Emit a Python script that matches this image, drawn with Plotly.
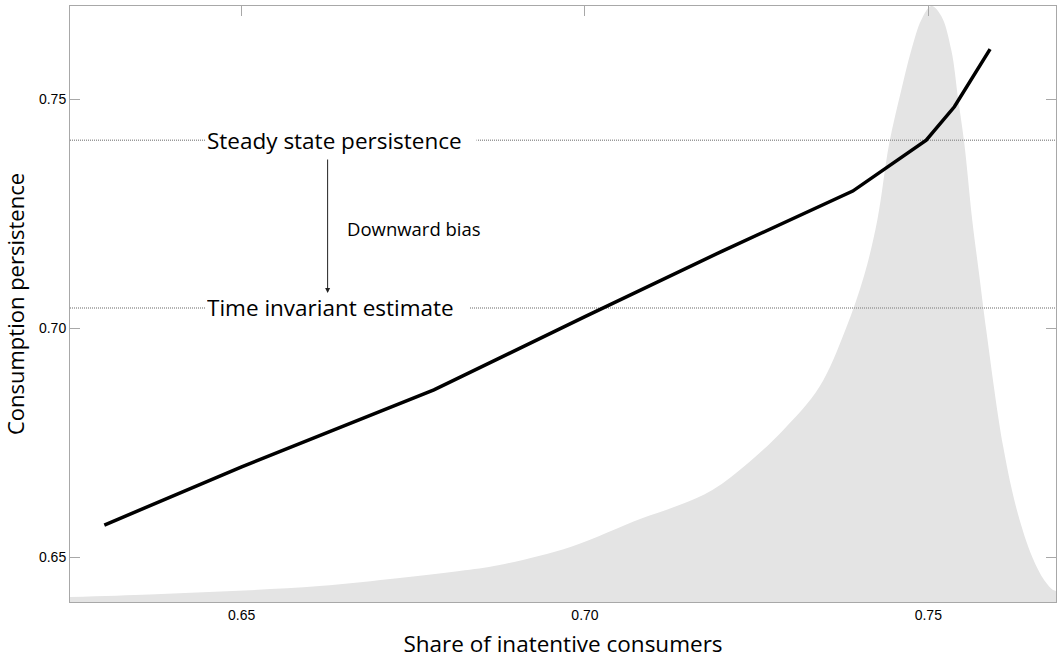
import plotly.graph_objects as go

# Consumption persistence as a function of the share of inattentive consumers
share = [0.630, 0.650, 0.678, 0.700, 0.720, 0.739, 0.7497, 0.7538, 0.759]
persistence = [0.657, 0.6697, 0.6865, 0.7025, 0.7168, 0.7299, 0.7410, 0.7483, 0.7609]

# Estimated density of the share of inattentive consumers
dens_x = [0.62496, 0.63661, 0.64869, 0.66135, 0.67300, 0.68173, 0.68755, 0.69789,
          0.70822, 0.71376, 0.71856, 0.72394, 0.72889, 0.73413, 0.73792, 0.74068,
          0.74258, 0.74432, 0.74607, 0.74753, 0.74898, 0.75044, 0.75189, 0.75335,
          0.75437, 0.75524, 0.75640, 0.75742, 0.75844, 0.76092, 0.76304, 0.76514,
          0.76689, 0.76820, 0.76863]
dens_y = [0.25, 0.38, 0.55, 0.80, 1.21, 1.56, 1.86, 2.77,
          4.20, 4.88, 5.64, 7.05, 8.66, 10.82, 13.69, 16.46,
          19.23, 23.1, 25.77, 27.78, 29.3, 30.0, 29.5, 27.78,
          25.27, 23.1, 19.23, 16.46, 13.69, 7.8, 4.45, 2.27,
          1.1, 0.6, 0.55]

steady_state = 0.7410
time_invariant = 0.7044

x_ticks = [0.65, 0.70, 0.75]
y_ticks = [0.65, 0.70, 0.75]
x_range = [0.625, 0.7686]
y_range = [0.6402, 0.7703]

axis_grey = "#a8a8a8"
label_font = "'Open Sans', Lato, sans-serif"
tick_font = dict(family="'Liberation Sans', Arial, sans-serif", size=14, color="black")

fig = go.Figure()

# density (background layer)
fig.add_trace(go.Scatter(
    x=dens_x, y=dens_y, mode="lines", fill="tozeroy",
    line=dict(color="rgba(0,0,0,0)", width=0, shape="spline", smoothing=1.0),
    fillcolor="#e4e4e4", hoverinfo="skip", showlegend=False,
    xaxis="x", yaxis="y",
))

# reference levels
for level in (steady_state, time_invariant):
    fig.add_trace(go.Scatter(
        x=x_range, y=[level, level], mode="lines",
        line=dict(color="#9a9a9a", width=1.5, dash="1px,1px"),
        hoverinfo="skip", showlegend=False, xaxis="x2", yaxis="y2",
    ))

# persistence curve
fig.add_trace(go.Scatter(
    x=share, y=persistence, mode="lines",
    line=dict(color="black", width=3.5),
    showlegend=False, xaxis="x2", yaxis="y2",
))

fig.update_layout(
    width=1057, height=659,
    margin=dict(l=70, r=1, t=6, b=57),
    plot_bgcolor="white", paper_bgcolor="white",
    xaxis=dict(
        range=x_range, tickvals=x_ticks, ticktext=[f"{v:.2f}" for v in x_ticks],
        ticks="", showline=True, linecolor=axis_grey, linewidth=1, mirror=True,
        showgrid=False, zeroline=False, tickfont=tick_font,
        title=dict(text="Share of inatentive consumers",
                   font=dict(family=label_font, size=22.5, color="black"), standoff=16),
    ),
    yaxis=dict(range=[0, 30], visible=False, showgrid=False, zeroline=False),
    xaxis2=dict(
        range=x_range, tickvals=x_ticks, overlaying="x", side="top", anchor="y2",
        ticks="inside", ticklen=10, tickcolor=axis_grey, showticklabels=False,
        showline=False, showgrid=False, zeroline=False,
    ),
    yaxis2=dict(
        range=y_range, tickvals=y_ticks, ticktext=[f"{v:.2f}" for v in y_ticks],
        overlaying="y", side="left", anchor="x2",
        ticks="inside", ticklen=10, tickcolor=axis_grey,
        showline=True, linecolor=axis_grey, linewidth=1, mirror="ticks",
        showgrid=False, zeroline=False, tickfont=tick_font,
        title=dict(text="Consumption persistence",
                   font=dict(family=label_font, size=22, color="black"), standoff=12),
    ),
)

text_font = dict(family=label_font, size=22.5, color="black")

fig.add_annotation(
    x=0.64461, y=steady_state, xref="x2", yref="y2", xanchor="left", yanchor="middle",
    text="Steady state persistence", showarrow=False, font=text_font,
    bgcolor="white", width=268, align="left", borderpad=1,
)
fig.add_annotation(
    x=0.64461, y=time_invariant, xref="x2", yref="y2", xanchor="left", yanchor="middle",
    text="Time invariant estimate", showarrow=False, font=text_font,
    bgcolor="white", width=261, align="left", borderpad=1,
)
fig.add_annotation(
    x=0.66252, y=0.70764, ax=0.66252, ay=0.73712,
    xref="x2", yref="y2", axref="x2", ayref="y2",
    text="", showarrow=True, arrowhead=2, arrowsize=1, arrowwidth=1, arrowcolor="#222",
)
fig.add_annotation(
    x=0.66499, y=0.72183, xref="x2", yref="y2", xanchor="left", yanchor="middle",
    text="Downward bias", showarrow=False,
    font=dict(family=label_font, size=18.5, color="black"),
)

fig.write_html("out.html")
